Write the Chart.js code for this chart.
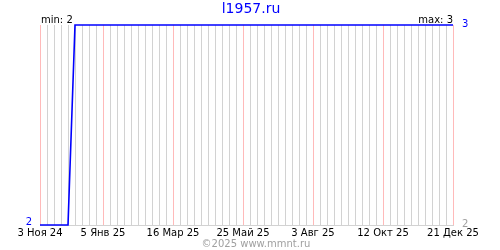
<!DOCTYPE html>
<html>
<head>
<meta charset="utf-8">
<script src="https://cdn.jsdelivr.net/npm/chart.js@4"></script>
<style>
  body { margin: 0; background: #fff; }
  #wrap { width: 500px; height: 250px; }
</style>
</head>
<body>
<div id="wrap"><canvas id="grafico" width="500" height="250"></canvas></div>
<script>
// weekly points
const semanas = [
  "3 Ноя 24", "10 Ноя 24", "17 Ноя 24", "24 Ноя 24",
  "1 Дек 24", "8 Дек 24", "15 Дек 24", "22 Дек 24", "29 Дек 24",
  "5 Янв 25", "12 Янв 25", "19 Янв 25", "26 Янв 25",
  "2 Фев 25", "9 Фев 25", "16 Фев 25", "23 Фев 25",
  "2 Мар 25", "9 Мар 25", "16 Мар 25", "23 Мар 25", "30 Мар 25",
  "6 Апр 25", "13 Апр 25", "20 Апр 25", "27 Апр 25",
  "4 Май 25", "11 Май 25", "18 Май 25", "25 Май 25",
  "1 Июн 25", "8 Июн 25", "15 Июн 25", "22 Июн 25", "29 Июн 25",
  "6 Июл 25", "13 Июл 25", "20 Июл 25", "27 Июл 25",
  "3 Авг 25", "10 Авг 25", "17 Авг 25", "24 Авг 25", "31 Авг 25",
  "7 Сен 25", "14 Сен 25", "21 Сен 25", "28 Сен 25",
  "5 Окт 25", "12 Окт 25", "19 Окт 25", "26 Окт 25",
  "2 Ноя 25", "9 Ноя 25", "16 Ноя 25", "23 Ноя 25", "30 Ноя 25",
  "7 Дек 25", "14 Дек 25", "21 Дек 25"
];

const valores = [
  2, 2, 2, 2, 2, 3, 3, 3, 3, 3,
  3, 3, 3, 3, 3, 3, 3, 3, 3, 3,
  3, 3, 3, 3, 3, 3, 3, 3, 3, 3,
  3, 3, 3, 3, 3, 3, 3, 3, 3, 3,
  3, 3, 3, 3, 3, 3, 3, 3, 3, 3,
  3, 3, 3, 3, 3, 3, 3, 3, 3, 3
];

const etiquetas = ["3 Ноя 24", "5 Янв 25", "16 Мар 25", "25 Май 25", "3 Авг 25", "12 Окт 25", "21 Дек 25"];

const titulo = "l1957.ru";
const pie = "©2025 www.mmnt.ru";
const minTexto = "min: 2";
const maxTexto = "max: 3";

const FUENTE = "'DejaVu Sans', sans-serif";

// texts outside chart area
const textos = {
  id: "textos",
  afterDraw(chart) {
    const ctx = chart.ctx;
    const a = chart.chartArea;
    ctx.save();
    ctx.textBaseline = "alphabetic";
    ctx.fillStyle = "#0000ff";
    ctx.font = "14px " + FUENTE;
    ctx.textAlign = "center";
    ctx.fillText(titulo, 251, 13);
    ctx.fillStyle = "#000";
    ctx.font = "10px " + FUENTE;
    ctx.textAlign = "left";
    ctx.fillText(minTexto, a.left + 1, 23);
    ctx.textAlign = "right";
    ctx.fillText(maxTexto, a.right, 23);
    ctx.fillStyle = "#a0a0a0";
    ctx.textAlign = "center";
    ctx.fillText(pie, 256, 247);
    ctx.restore();
  }
};

const ctx = document.getElementById("grafico").getContext("2d");
new Chart(ctx, {
  type: "line",
  data: {
    labels: semanas,
    datasets: [
      {
        data: valores,
        borderColor: "#0000ff",
        borderWidth: 1.6,
        pointRadius: 0,
        tension: 0,
        fill: false,
        clip: false,
        yAxisID: "y"
      }
    ]
  },
  options: {
    responsive: false,
    animation: false,
    layout: { padding: { top: 25, left: 0, right: 0, bottom: 0 } },
    plugins: { legend: { display: false }, tooltip: { enabled: false } },
    scales: {
      x: {
        type: "category",
        offset: false,
        afterFit(s) { s.height = 25; },
        grid: {
          drawTicks: false,
          color: (c) => (etiquetas.includes(semanas[c.index]) ? "#ffbaba" : "#d2d2d2")
        },
        border: { color: "#d2d2d2" },
        ticks: {
          autoSkip: false,
          maxRotation: 0,
          padding: 2,
          color: "#000",
          font: { family: FUENTE, size: 10 },
          callback: function (v, i) {
            const t = semanas[i];
            return etiquetas.includes(t) ? t : "";
          }
        }
      },
      y: {
        position: "left",
        min: 2,
        max: 3,
        afterFit(s) { s.width = 40; },
        grid: { display: false, drawTicks: false },
        border: { display: false },
        ticks: {
          stepSize: 1,
          padding: 8,
          labelOffset: -3,
          color: "#0000ff",
          font: { family: FUENTE, size: 10 },
          callback: (v) => (v === 2 ? "2" : "")
        }
      },
      y2: {
        position: "right",
        min: 2,
        max: 3,
        afterFit(s) { s.width = 47; },
        grid: { display: false, drawTicks: false },
        border: { display: false },
        ticks: {
          stepSize: 1,
          padding: 9,
          labelOffset: -1,
          color: (c) => (c.tick && c.tick.value === 3 ? "#0000ff" : "#a0a0a0"),
          font: { family: FUENTE, size: 10 },
          callback: (v) => String(v)
        }
      }
    }
  },
  plugins: [textos]
});
</script>
</body>
</html>
